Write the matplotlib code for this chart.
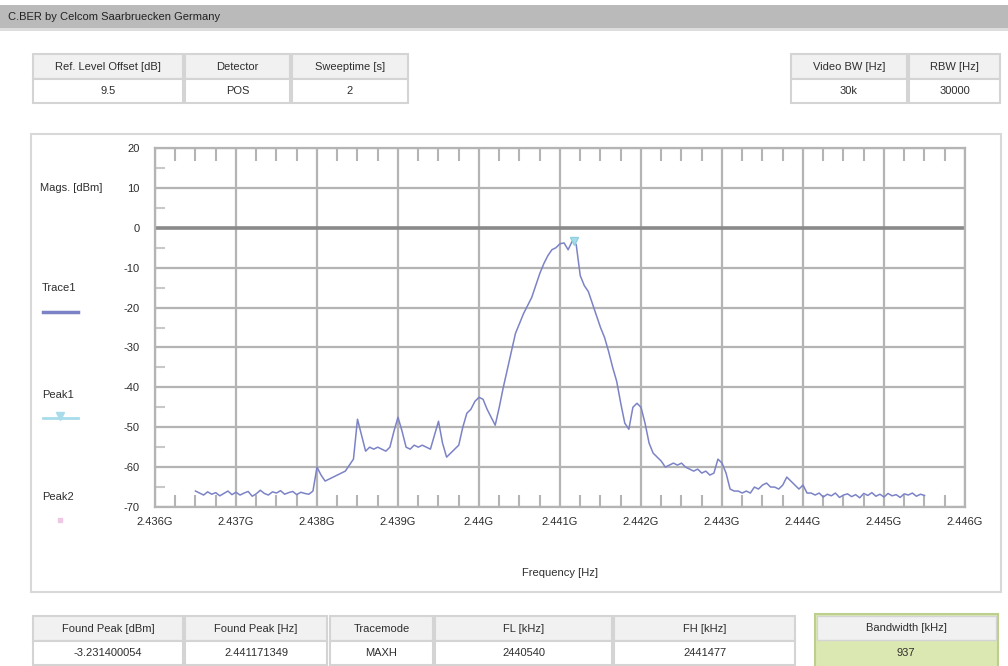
"""Spectrum analyser screen: C.BER sweep with trace, peak marker and setting tables."""

import numpy as np
import matplotlib

matplotlib.use("Agg")
import matplotlib.pyplot as plt
from matplotlib.patches import Rectangle

plt.rcParams["font.family"] = ["Liberation Sans", "DejaVu Sans"]
plt.rcParams["axes.unicode_minus"] = False

W, H = 1008, 666

# sweep data (GHz, dBm)
f_start, f_stop = 2.4365, 2.4455
trace_db = [
    # flat noise floor 2.4365 .. 2.4380
    -66, -66.5, -67, -66.2, -66.8, -66.4, -67.2, -66.6, -66, -66.9,
    -66.3, -67, -66.5, -66.1, -67.3, -66.7, -65.8, -66.6, -67, -66.2,
    -66.5, -65.9, -66.8, -66.4, -66.1, -66.9, -66.3, -66.6, -66.8, -66.0,
    # shoulder and side lobes
    -60, -62, -63.5, -63, -62.5, -62, -61.5, -61, -59.5, -58,
    -48, -52, -56, -55, -55.5, -55, -55.5, -56, -55, -51,
    -47.5, -51, -55, -55.5, -54.5, -55, -54.5, -55, -55.5, -52,
    -48.5, -54, -57.5, -56.5, -55.5, -54.5, -50, -46.5, -45.5, -43.5,
    -42.5, -43, -45.5, -47.5, -49.5, -45, -40, -35.5, -31, -26.5,
    # main lobe
    -24, -21.5, -19.5, -17.5, -14.5, -11.5, -9, -7, -5.5, -5,
    -4, -3.8, -5.5, -3.4, -4.2, -12, -14.5, -16, -19, -22,
    -25, -27.5, -31, -35, -38.5, -44, -49, -50.5, -45, -44,
    -45, -49, -54, -56.5, -57.5, -58.5, -60, -59.5, -59, -59.5,
    -59, -60, -60.5, -61, -60.5, -61.5, -61, -62, -61.5, -58,
    -59, -61.5, -65.5, -66, -66, -66.5, -66, -66.5, -65, -65.5,
    -64.5, -64, -65, -65, -65.5, -64.5, -62.5, -63.5, -64.5, -65.5,
    -64.5, -66.5, -66.5, -67, -66.5,
    # upper noise floor
    -67.5, -66.8, -67.2, -66.5, -67.6, -67, -66.7, -67.4, -66.9, -67.7,
    -66.6, -67.1, -66.4, -67.3, -66.8, -67.5, -66.6, -67.2, -66.9, -67.6,
    -66.7, -67, -66.5, -67.3, -66.8, -67.1,
]
trace_f = np.linspace(f_start, f_stop, len(trace_db))

peak_f = 2.441171349
peak_db = -3.231400054

x_ticks = [2.436, 2.437, 2.438, 2.439, 2.440, 2.441, 2.442, 2.443, 2.444, 2.445, 2.446]
x_labels = ["2.436G", "2.437G", "2.438G", "2.439G", "2.44G", "2.441G",
            "2.442G", "2.443G", "2.444G", "2.445G", "2.446G"]
y_ticks = [20, 10, 0, -10, -20, -30, -40, -50, -60, -70]

top_left_heads = ["Ref. Level Offset [dB]", "Detector", "Sweeptime [s]"]
top_left_vals = ["9.5", "POS", "2"]
top_right_heads = ["Video BW [Hz]", "RBW [Hz]"]
top_right_vals = ["30k", "30000"]
bottom_heads = ["Found Peak [dBm]", "Found Peak [Hz]", "Tracemode", "FL [kHz]", "FH [kHz]"]
bottom_vals = ["-3.231400054", "2.441171349", "MAXH", "2440540", "2441477"]
bw_head, bw_val = "Bandwidth [kHz]", "937"

TRACE_C = "#7b83c6"
PEAK_C = "#a8dcea"
GRID_C = "#b4b4b4"
TXT_C = "#2e2e2e"
FS = 8


def fx(px):
    return px / W


def fy(py):
    return 1 - py / H


def box(fig, x0, y0, x1, y1, face, edge="#d4d4d4", lw=1.5):
    fig.patches.append(Rectangle((fx(x0), fy(y1)), fx(x1) - fx(x0), fy(y0) - fy(y1),
                                 transform=fig.transFigure, facecolor=face,
                                 edgecolor=edge, linewidth=lw, zorder=1))


def table(fig, edges, y0, heads, vals, face_val="white", edge="#d4d4d4"):
    ymid, y1 = y0 + 25, y0 + 49
    for (xa, xb), hd, vl in zip(edges, heads, vals):
        box(fig, xa, y0, xb, ymid, "#f1f1f1", edge)
        box(fig, xa, ymid, xb, y1, face_val, edge)
        fig.text(fx((xa + xb) / 2), fy((y0 + ymid) / 2), hd, ha="center", va="center",
                 fontsize=FS, color=TXT_C)
        fig.text(fx((xa + xb) / 2), fy((ymid + y1) / 2), vl, ha="center", va="center",
                 fontsize=FS, color=TXT_C)


fig = plt.figure(figsize=(W / 100, H / 100), dpi=100)
fig.patch.set_facecolor("white")

# title bar
box(fig, -2, 5, W + 2, 28, "#bababa", edge="#bababa", lw=0)
box(fig, -2, 28, W + 2, 31, "#dddddd", edge="#dddddd", lw=0)
fig.text(fx(8), fy(17), "C.BER by Celcom Saarbruecken Germany", ha="left", va="center",
         fontsize=FS, color="#222222")

# settings tables
table(fig, [(33, 183), (185, 290), (292, 408)], 54, top_left_heads, top_left_vals)
table(fig, [(791, 907), (909, 1000)], 54, top_right_heads, top_right_vals)

# chart panel frame
box(fig, 31, 134, 1001, 592, "white", edge="#d8d8d8", lw=1.5)

# bottom result tables
table(fig, [(33, 183), (185, 327), (330, 433), (435, 612), (614, 795)], 616,
      bottom_heads, bottom_vals)
box(fig, 815, 614, 998, 668, "#dbe8b2", edge="#bccf8c", lw=1.5)
box(fig, 817, 616, 996, 640, "#f1f1f1", edge="#d4d4d4", lw=1)
fig.text(fx(906), fy(628), bw_head, ha="center", va="center", fontsize=FS, color=TXT_C)
fig.text(fx(906), fy(653), bw_val, ha="center", va="center", fontsize=FS, color=TXT_C)

# spectrum axes
ax = fig.add_axes([fx(155), fy(507), fx(965) - fx(155), fy(148) - fy(507)])
ax.set_zorder(3)
ax.set_xlim(2.436, 2.446)
ax.set_ylim(-70, 20)
ax.set_xticks(x_ticks)
ax.set_xticklabels(x_labels)
ax.set_yticks(y_ticks)
ax.set_xticks(np.arange(2.436, 2.44601, 0.00025), minor=True)
ax.set_yticks(np.arange(-65, 20, 10), minor=True)
ax.tick_params(which="major", length=0, labelsize=FS, labelcolor=TXT_C)
ax.tick_params(axis="y", which="major", pad=11)
ax.tick_params(axis="x", which="major", pad=7)
ax.tick_params(axis="x", which="minor", direction="in", top=True, bottom=True,
               length=9, width=1.5, color=GRID_C)
ax.tick_params(axis="y", which="minor", direction="in", left=True, right=False,
               length=7, width=1.5, color="#c8c8c8")
ax.grid(True, which="major", color=GRID_C, linewidth=1.6)
ax.axhline(0, color="#8a8a8a", linewidth=2.6, zorder=2)
for sp in ax.spines.values():
    sp.set_color(GRID_C)
    sp.set_linewidth(1.6)

ax.plot(trace_f, trace_db, color=TRACE_C, linewidth=1.1, zorder=4)
ax.plot([peak_f], [peak_db], marker="v", markersize=6, color=PEAK_C,
        markeredgecolor="#8fd0e0", linestyle="none", zorder=5)

ax.set_xlabel("Frequency [Hz]", fontsize=FS, color=TXT_C, labelpad=30)

# side legend
fig.text(fx(40), fy(188), "Mags. [dBm]", ha="left", va="center", fontsize=FS, color=TXT_C)
fig.text(fx(42), fy(288), "Trace1", ha="left", va="center", fontsize=FS, color=TXT_C)
fig.lines.append(plt.Line2D([fx(43), fx(78)], [fy(312), fy(312)], transform=fig.transFigure,
                            color=TRACE_C, linewidth=2.5))
fig.text(fx(42), fy(395), "Peak1", ha="left", va="center", fontsize=FS, color=TXT_C)
fig.lines.append(plt.Line2D([fx(43), fx(78)], [fy(418), fy(418)], transform=fig.transFigure,
                            color=PEAK_C, linewidth=2))
fig.lines.append(plt.Line2D([fx(60)], [fy(416)], transform=fig.transFigure, marker="v",
                            markersize=6, color=PEAK_C))
fig.text(fx(42), fy(497), "Peak2", ha="left", va="center", fontsize=FS, color=TXT_C)
fig.lines.append(plt.Line2D([fx(60)], [fy(520)], transform=fig.transFigure, marker="s",
                            markersize=2.5, color="#efc8e4", linestyle="none"))

fig.savefig("out.png", dpi=100)
